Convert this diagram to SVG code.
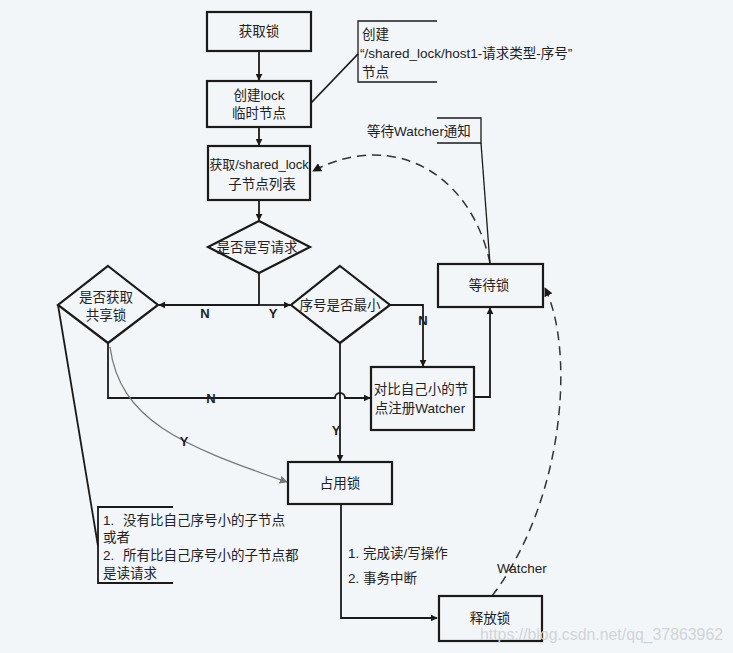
<svg xmlns="http://www.w3.org/2000/svg" width="733" height="653" viewBox="0 0 733 653">
<defs>
<marker id="ah" viewBox="0 0 10 10" refX="9" refY="5" markerWidth="7" markerHeight="7" markerUnits="userSpaceOnUse" orient="auto"><path d="M0,0 L10,5 L0,10 z" fill="#1a1a1a"/></marker>
<marker id="ahg" viewBox="0 0 10 10" refX="9" refY="5" markerWidth="8" markerHeight="8" markerUnits="userSpaceOnUse" orient="auto"><path d="M0,0 L10,5 L0,10 z" fill="#777"/></marker>
<marker id="ahs" viewBox="0 0 10 10" refX="9" refY="5" markerWidth="9" markerHeight="9" markerUnits="userSpaceOnUse" orient="auto"><path d="M0,0 L10,5 L0,10 z" fill="#1a1a1a"/></marker>
</defs>
<style>
.bg{fill:#f3f6f8}
.box{fill:none;stroke:#1a1a1a;stroke-width:2.2}
.t{font-family:"Liberation Sans","Noto Sans CJK SC",sans-serif;font-size:13.5px;fill:#222;text-anchor:middle}
.tl{font-family:"Liberation Sans","Noto Sans CJK SC",sans-serif;font-size:13.5px;fill:#222}
.lb{font-family:"Liberation Sans","Noto Sans CJK SC",sans-serif;font-size:13px;font-weight:bold;fill:#222;text-anchor:middle}
.c{fill:none;stroke:#1a1a1a;stroke-width:1.8}
.thin{fill:none;stroke:#1a1a1a;stroke-width:1.3}
.dash{fill:none;stroke:#333;stroke-width:1.5;stroke-dasharray:9,6}
.wm{font-family:"Liberation Sans",sans-serif;font-size:16px;fill:#d0d4d8}
</style>
<rect class="bg" x="0" y="0" width="733" height="653"/>

<g id="connectors">
<line class="c" x1="259" y1="51" x2="259" y2="80" marker-end="url(#ah)"/>
<line class="c" x1="259" y1="127" x2="259" y2="145" marker-end="url(#ah)"/>
<line class="c" x1="259" y1="200" x2="259" y2="220" marker-end="url(#ah)"/>
<line class="c" x1="259" y1="273" x2="259" y2="305"/>
<line class="c" x1="259" y1="305" x2="159" y2="305" marker-end="url(#ah)"/>
<line class="c" x1="259" y1="305" x2="290" y2="305" marker-end="url(#ah)"/>
<polyline class="c" points="390,305 423,305 423,366" marker-end="url(#ah)"/>
<polyline class="c" points="474,397 490,397 490,308" marker-end="url(#ah)"/>
<path class="c" d="M108,343 L108,398 L335,398 A5,5 0 0 1 345,398 L370,398" marker-end="url(#ah)"/>
<line class="c" x1="340" y1="343" x2="340" y2="461" marker-end="url(#ah)"/>
<path fill="none" stroke="#777" stroke-width="1.3" d="M110,347 C120,420 180,445 287,482" marker-end="url(#ahg)"/>
<polyline class="c" points="341,504 341,618 437,618" marker-end="url(#ah)"/>
<path class="dash" d="M490,263 C470,170 390,130 313,171" marker-end="url(#ahs)"/>
<path class="dash" d="M492,596 C565,500 575,350 545,288" marker-end="url(#ahs)"/>
<line class="c" x1="311" y1="103" x2="358" y2="54"/>
<line class="thin" x1="481" y1="143" x2="490" y2="264"/>
<line class="c" x1="58" y1="305" x2="98" y2="546"/>
</g>

<g id="n-get-lock"><rect class="box" x="207" y="12" width="104" height="39"/><text class="t" x="259" y="36">获取锁</text></g>
<g id="n-create-lock"><rect class="box" x="207" y="81" width="104" height="46"/><text class="t" x="259" y="100">创建lock</text><text class="t" x="259" y="118">临时节点</text></g>
<g id="n-note-create"><polyline class="thin" points="437,21 358,21 358,82 437,82"/><text class="tl" x="362" y="39">创建</text><text class="tl" x="360" y="58">“/shared_lock/host1-请求类型-序号”</text><text class="tl" x="362" y="77">节点</text></g>
<g id="n-get-children"><rect class="box" x="208" y="146" width="102" height="54"/><text class="t" x="259" y="169" style="font-size:13px">获取/shared_lock</text><text class="t" x="262" y="189">子节点列表</text></g>
<g id="n-is-write"><polygon class="box" points="259,221 310,247 259,273 208,247"/><text class="t" x="257" y="252">是否是写请求</text></g>
<g id="n-shared"><polygon class="box" points="108,266 158,305 108,343 58,305"/><text class="t" x="106" y="302">是否获取</text><text class="t" x="106" y="320">共享锁</text></g>
<g id="n-min"><polygon class="box" points="340,266 390,305 340,343 291,305"/><text class="t" x="340" y="310">序号是否最小</text></g>
<g id="n-register"><rect class="box" x="371" y="367" width="103" height="63"/><text class="t" x="421" y="394">对比自己小的节</text><text class="t" x="420" y="413">点注册Watcher</text></g>
<g id="n-wait"><rect class="box" x="438" y="264" width="105" height="43"/><text class="t" x="489" y="290">等待锁</text></g>
<g id="n-note-wait"><polyline class="thin" points="437,118 481,118 481,143 437,143"/><text class="t" x="419" y="136">等待Watcher通知</text></g>
<g id="n-hold"><rect class="box" x="288" y="462" width="104" height="42"/><text class="t" x="340" y="488">占用锁</text></g>
<g id="n-release"><rect class="box" x="439" y="596" width="103" height="45"/><text class="t" x="490" y="623">释放锁</text></g>
<g id="n-note-cond"><polyline class="c" points="173,507 98,507 98,583 173,583"/>
<text class="tl" x="103" y="525">1.</text><text class="tl" x="123" y="525">没有比自己序号小的子节点</text>
<text class="tl" x="103" y="542">或者</text>
<text class="tl" x="103" y="560">2.</text><text class="tl" x="123" y="560">所有比自己序号小的子节点都</text>
<text class="tl" x="103" y="578">是读请求</text></g>

<g id="labels">
<text class="lb" x="205" y="318">N</text>
<text class="lb" x="273" y="318">Y</text>
<text class="lb" x="423" y="325">N</text>
<text class="lb" x="211" y="403">N</text>
<text class="lb" x="336" y="435">Y</text>
<text class="lb" x="184" y="446">Y</text>
<text class="tl" x="348" y="558">1. 完成读/写操作</text>
<text class="tl" x="348" y="583">2. 事务中断</text>
<text class="tl" x="497" y="573">Watcher</text>
</g>
<text class="wm" x="480" y="640" textLength="243" lengthAdjust="spacingAndGlyphs">https://blog.csdn.net/qq_37863962</text>
</svg>
